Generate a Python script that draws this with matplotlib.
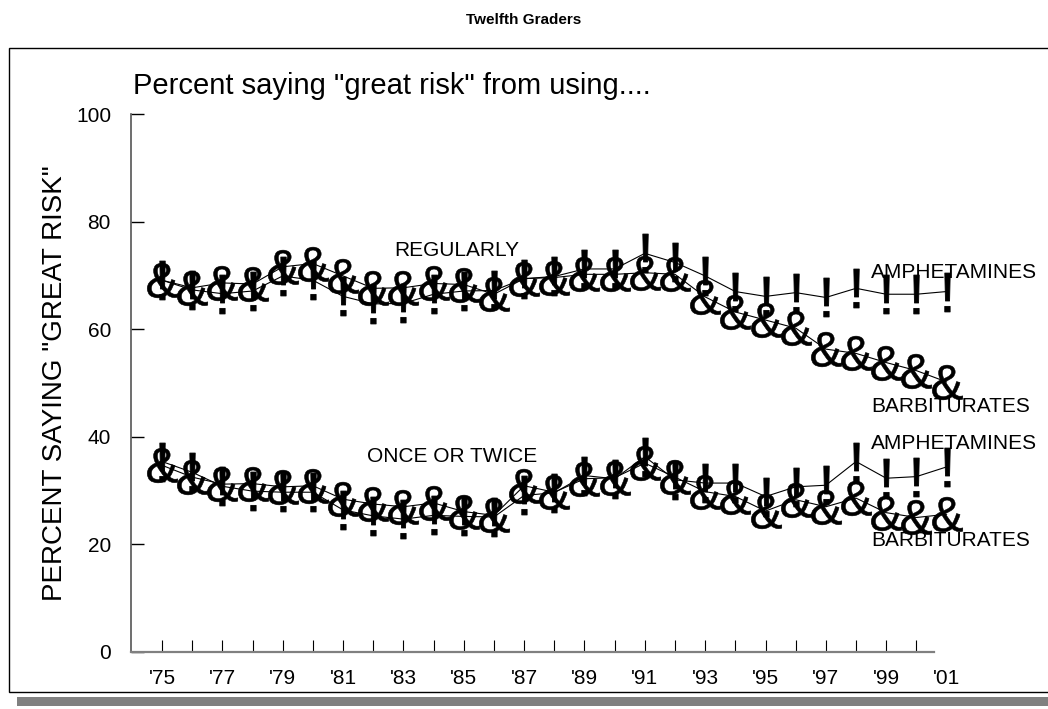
import matplotlib
matplotlib.use("Agg")
import matplotlib.pyplot as plt
from matplotlib.patches import Rectangle
from matplotlib.textpath import TextPath
from matplotlib.font_manager import FontProperties
from matplotlib.transforms import Affine2D

plt.rcParams["font.family"] = ["Liberation Sans", "DejaVu Sans"]

years = list(range(1975, 2002))

# percent of twelfth graders saying "great risk"
amph_regular = [69.1, 67.3, 66.6, 67.1, 69.9, 69.1, 66.1, 64.7, 64.8, 66.5,
                67.1, 67.2, 69.4, 69.8, 71.2, 71.2, 74.1, 72.4, 69.9, 67.0,
                66.1, 66.8, 65.9, 67.6, 66.5, 66.5, 67.0]
barb_regular = [69.1, 67.7, 68.6, 68.4, 71.6, 72.2, 69.9, 67.6, 67.7, 68.5,
                68.3, 66.5, 69.4, 69.6, 70.2, 70.2, 70.5, 70.2, 66.0, 63.2,
                61.7, 60.2, 56.3, 55.5, 53.8, 52.3, 50.2]
amph_once = [35.4, 33.4, 30.8, 29.9, 29.7, 29.7, 26.4, 25.3, 24.7, 25.4,
             25.2, 25.1, 29.1, 29.6, 32.8, 32.2, 36.3, 32.0, 31.4, 31.4,
             28.9, 30.7, 31.0, 35.4, 32.3, 32.6, 34.4]
barb_once = [34.7, 32.5, 31.2, 31.3, 30.7, 30.9, 28.4, 27.5, 27.0, 27.7,
             26.1, 25.4, 30.9, 29.7, 32.2, 32.4, 35.1, 32.5, 29.8, 28.9,
             26.2, 28.3, 27.0, 28.6, 25.9, 25.0, 25.6]

tick_labels = ["'75", "", "'77", "", "'79", "", "'81", "", "'83", "",
               "'85", "", "'87", "", "'89", "", "'91", "", "'93", "",
               "'95", "", "'97", "", "'99", "", "'01"]
y_ticks = [0, 20, 40, 60, 80, 100]


def glyph_marker(char):
    """Glyph outline centred on the origin, usable as a plot marker."""
    path = TextPath((0, 0), char, size=10, prop=FontProperties(family="Liberation Sans"))
    ext = path.get_extents()
    return path.transformed(Affine2D().translate(-(ext.x0 + ext.x1) / 2, -(ext.y0 + ext.y1) / 2))


fig = plt.figure(figsize=(10.48, 7.09), dpi=100)

# outer frame with a drop shadow
fig.patches.append(Rectangle((0.0162, 0.0042), 1.0, 0.0127, transform=fig.transFigure,
                             facecolor="#808080", edgecolor="none", zorder=-2))
fig.patches.append(Rectangle((0.0086, 0.024), 1.0, 0.9083, transform=fig.transFigure,
                             facecolor="white", edgecolor="black", linewidth=1.0, zorder=-1))

ax = fig.add_axes([0.125, 0.0804, 0.807, 0.7588])
ax.set_facecolor("none")
ax.set_xlim(1973.97, 2002.0)
ax.set_ylim(0, 100)

for spine in ("top", "right"):
    ax.spines[spine].set_visible(False)
ax.spines["bottom"].set_bounds(1973.97, 2000.6)
ax.spines["bottom"].set_color("#808080")
ax.spines["bottom"].set_linewidth(1.6)
ax.spines["left"].set_color("#555555")
ax.spines["left"].set_linewidth(1.2)

ax.set_xticks(years)
ax.set_xticklabels(tick_labels, fontsize=15)
ax.xaxis.get_major_ticks()[-1].tick1line.set_visible(False)
ax.set_yticks(y_ticks)
ax.set_yticklabels([str(v) for v in y_ticks], fontsize=15)
ax.tick_params(axis="x", direction="in", length=8.6, width=0.8, color="black", pad=12)
ax.tick_params(axis="y", direction="in", length=9.4, width=1.0, color="black", pad=14.4)

amph_marker = glyph_marker("!")
barb_marker = glyph_marker("&")
line_kw = dict(color="black", linewidth=0.8, clip_on=False)

ax.plot(years, amph_regular, marker=amph_marker, markersize=28, markeredgewidth=0.6, **line_kw)
ax.plot(years, barb_regular, marker=barb_marker, markersize=25, markeredgewidth=0.4, **line_kw)
ax.plot(years, amph_once, marker=amph_marker, markersize=28, markeredgewidth=0.6, **line_kw)
ax.plot(years, barb_once, marker=barb_marker, markersize=25, markeredgewidth=0.4, **line_kw)

ax.text(1982.7, 74.7, "REGULARLY", fontsize=15, va="center")
ax.text(1981.8, 36.4, "ONCE OR TWICE", fontsize=15, va="center")
ax.text(1998.5, 70.6, "AMPHETAMINES", fontsize=15, va="center")
ax.text(1998.5, 45.7, "BARBITURATES", fontsize=15, va="center")
ax.text(1998.5, 38.8, "AMPHETAMINES", fontsize=15, va="center")
ax.text(1998.5, 20.8, "BARBITURATES", fontsize=15, va="center")

ax.set_ylabel('PERCENT SAYING "GREAT RISK"', fontsize=20, labelpad=6)

fig.text(0.5, 0.972, "Twelfth Graders", fontsize=11, fontweight="bold", ha="center", va="center")
fig.text(0.127, 0.8674, 'Percent saying "great risk" from using....', fontsize=21,
         ha="left", va="baseline")

fig.savefig("out.png", dpi=100)
